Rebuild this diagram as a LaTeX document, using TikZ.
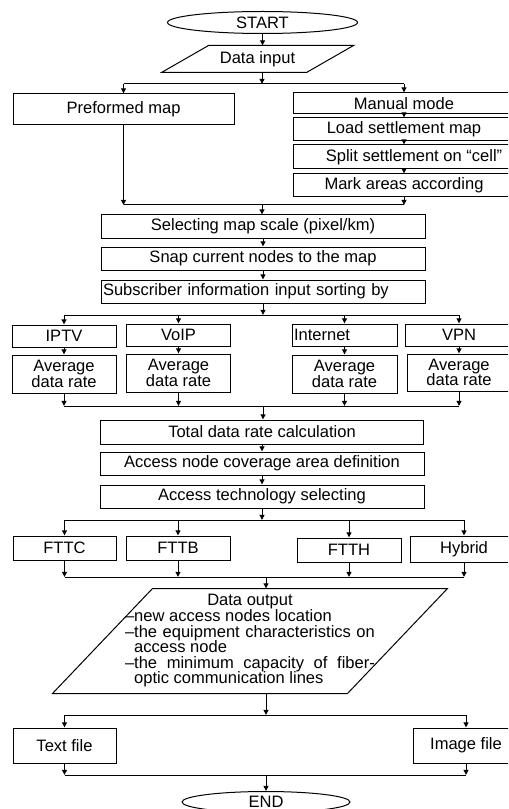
\documentclass[tikz,border=0pt]{standalone}
\usepackage{fontspec}
\setmainfont{Liberation Sans}
\usetikzlibrary{shapes.geometric,arrows.meta,calc}

\tikzset{every picture/.style={line width=0.75pt}}

\begin{document}
\begin{tikzpicture}[x=0.75pt,y=0.75pt,yscale=-1,xscale=1,
  txt/.style={font=\fontsize{12.4}{11.7}\selectfont, inner sep=0pt},
  bx/.style 2 args={txt, draw, rectangle, minimum width=#1*0.75pt, minimum height=#2*0.75pt},
  oval/.style 2 args={txt, draw, ellipse, minimum width=#1*0.75pt, minimum height=#2*0.75pt},
  io/.style 2 args={txt, rectangle, minimum width=#1*0.75pt, minimum height=#2*0.75pt},
  arr/.style={-{Triangle[length=3.8pt,width=3.6pt]}}]
%set diagram size 508 x 809
\useasboundingbox (0,0) rectangle (508,809);
\clip (0,0) rectangle (508,809);

%Shape: Ellipse
\draw (262.5,22.5) node (start) [oval={190}{22}] {START};
%Shape: Parallelogram
\draw (257.5,59) node (input) [io={191}{26}] {Data input};
\draw (input.south west) -- ($(input.south east)+(-47,0)$) -- (input.north east) -- ($(input.north west)+(47,0)$) -- cycle;

%Shape: Boxes (map)
\draw (123.5,109.5) node (premap) [bx={221}{31}] {Preformed map};
\draw (404,103.5) node (manual) [bx={222}{21}] {Manual mode};
\draw (404,129.5) node (load) [bx={222}{23}] {Load settlement map};
\draw (404,157) node (split) [bx={222}{24}] {\hspace*{15pt}Split settlement on “cell”};
\draw (404,185.5) node (mark) [bx={222}{23}] {Mark areas according};

\draw (263,226.5) node (select) [bx={324}{23}] {Selecting map scale (pixel/km)};
\draw (263,258.5) node (snap) [bx={324}{23}] {Snap current nodes to the map};
\draw (263,291.5) node (subscr) [bx={324}{23}, text width=320*0.75pt, align=left] {Subscriber information input sorting by};

%Shape: Boxes (services)
\draw (64,336) node (iptv) [bx={104}{22}] {IPTV};
\draw (178.5,335) node (voip) [bx={104}{22}] {VoIP};
\draw (344.5,335) node (inet) [bx={105}{22}, text width=101*0.75pt, align=left] {Internet};
\draw (459,335) node (vpn) [bx={108}{22}] {VPN};
\draw (64,374) node (avg1) [bx={104}{38}, align=center] {Average\\data rate};
\draw (178.5,373) node (avg2) [bx={104}{38}, align=center] {Average\\data rate};
\draw (344.5,374) node (avg3) [bx={105}{38}, align=center] {Average\\data rate};
\draw (459,372.5) node (avg4) [bx={104}{37}, align=center] {Average\\data rate};

\draw (262,432) node (total) [bx={323}{24}] {Total data rate calculation};
\draw (262,463.5) node (access) [bx={324}{23}] {Access node coverage area definition};
\draw (262,496.5) node (tech) [bx={324}{23}] {Access technology selecting};

%Shape: Boxes (technology)
\draw (64.5,548) node (fttc) [bx={103}{24}] {FTTC};
\draw (178,548) node (fttb) [bx={104}{24}] {FTTB};
\draw (349,550) node (ftth) [bx={104}{24}] {FTTH};
\draw (464,549) node (hybrid) [bx={108}{26}] {Hybrid};

%Shape: Parallelogram
\draw (250,641) node (output) [io={394}{104}, align=left] {\makebox[187.5pt]{Data output}\\
\textendash new access nodes location\\
\textendash\makebox[180.5pt][s]{the equipment characteristics on}\\
\hphantom{\textendash}access node\\
\textendash\makebox[180.5pt][s]{the minimum capacity of fiber-}\\
\hphantom{\textendash}optic communication lines};
\draw (output.south west) -- ($(output.south east)+(-100,0)$) -- (output.north east) -- ($(output.north west)+(100,0)$) -- cycle;

\draw (64.5,745.5) node (textf) [bx={103}{35}] {Text file};
\draw (466,745.5) node (imagef) [bx={106}{35}] {Image file};
\draw (266,802) node (finish) [oval={168}{21}] {END};

%Branch points
\coordinate (b1) at (262,84);
\coordinate (j1) at (262,205);
\coordinate (b2) at (263,315);
\coordinate (j2) at (263,406);
\coordinate (b3) at (262,520);
\coordinate (j3) at (266,577);
\coordinate (b4) at (266,715);
\coordinate (j4) at (266,775);

%Straight Lines
\draw [arr] (start.south) -- (start.south |- input.north);
\draw [arr] (b1 |- input.south) -- (b1);
\draw (premap.north |- b1) -- (manual.north |- b1);
\draw [arr] (premap.north |- b1) -- (premap.north);
\draw [arr] (manual.north |- b1) -- (manual.north);
\draw [arr] (manual) -- (load);
\draw [arr] (load) -- (split);
\draw [arr] (split) -- (mark);
\draw [arr] (premap.south) -- (premap.south |- j1);
\draw [arr] (mark.south) -- (mark.south |- j1);
\draw (premap.south |- j1) -- (mark.south |- j1);
\draw [arr] (j1) -- (j1 |- select.north);
\draw [arr] (select) -- (snap);
\draw [arr] (snap) -- (subscr);
\draw [arr] (b2 |- subscr.south) -- (b2);
\draw (iptv.north |- b2) -- (vpn.north |- b2);
\foreach \s/\a in {iptv/avg1,voip/avg2,inet/avg3,vpn/avg4}{
  \draw [arr] (\s.north |- b2) -- (\s.north);
  \draw [arr] (\s) -- (\a);
  \draw [arr] (\a.south) -- (\a.south |- j2);
}
\draw (avg1.south |- j2) -- (avg4.south |- j2);
\draw [arr] (j2) -- (j2 |- total.north);
\draw [arr] (total) -- (access);
\draw [arr] (access) -- (tech);
\draw [arr] (b3 |- tech.south) -- (b3);
\draw (fttc.north |- b3) -- (hybrid.north |- b3);
\foreach \t in {fttc,fttb,ftth,hybrid}{
  \draw [arr] (\t.north |- b3) -- (\t.north);
  \draw [arr] (\t.south) -- (\t.south |- j3);
}
\draw (fttc.south |- j3) -- (hybrid.south |- j3);
\draw [arr] (j3) -- (j3 |- output.north);
\draw [arr] (b4 |- output.south) -- (b4);
\draw (textf.north |- b4) -- (imagef.north |- b4);
\draw [arr] (textf.north |- b4) -- (textf.north);
\draw [arr] (imagef.north |- b4) -- (imagef.north);
\draw [arr] (textf.south) -- (textf.south |- j4);
\draw [arr] (imagef.south) -- (imagef.south |- j4);
\draw (textf.south |- j4) -- (imagef.south |- j4);
\draw [arr] (j4) -- (j4 |- finish.north);

\end{tikzpicture}
\end{document}
